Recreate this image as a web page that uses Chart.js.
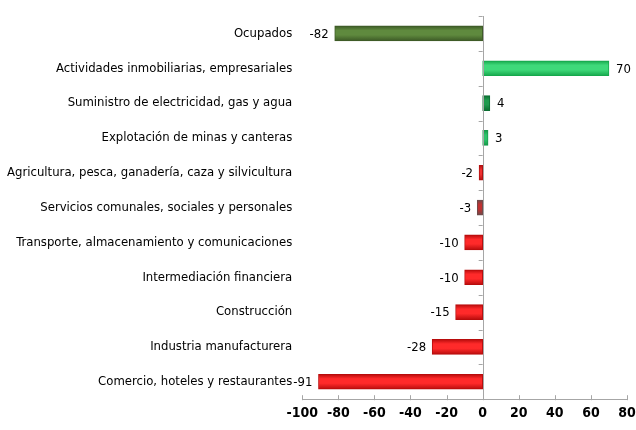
<!DOCTYPE html>
<html>
<head>
<meta charset="utf-8">
<script src="https://cdn.jsdelivr.net/npm/chart.js@4"></script>
<style>
html,body{margin:0;padding:0;background:#fff;}
#wrap{width:636px;height:430px;}
</style>
</head>
<body>
<div id="wrap"><canvas id="c" width="636" height="430"></canvas></div>
<script>
const categories = [
  "Ocupados",
  "Actividades inmobiliarias, empresariales",
  "Suministro de electricidad, gas y agua",
  "Explotación de minas y canteras",
  "Agricultura, pesca, ganadería, caza y silvicultura",
  "Servicios comunales, sociales y personales",
  "Transporte, almacenamiento y comunicaciones",
  "Intermediación financiera",
  "Construcción",
  "Industria manufacturera",
  "Comercio, hoteles y restaurantes"
];
const values = [-82, 70, 4, 3, -2, -3, -10, -10, -15, -28, -91];
const xTicks = [-100, -80, -60, -40, -20, 0, 20, 40, 60, 80];
// [edge, center] colours per bar
const barColors = [
  ["#3d5a26", "#5f8a3e"],
  ["#16a84c", "#3fd97a"],
  ["#0b6e32", "#1f9a4e"],
  ["#15994a", "#2cc46a"],
  ["#b01010", "#f03030"],
  ["#6e4a4a", "#c03030"],
  ["#b80c0c", "#ff2a2a"],
  ["#b80c0c", "#ff2a2a"],
  ["#b80c0c", "#ff2a2a"],
  ["#b80c0c", "#ff2a2a"],
  ["#b80c0c", "#ff2a2a"]
];

const FONT = '"Liberation Sans Narrow", "Arial Narrow", "DejaVu Sans Condensed", "Liberation Sans", sans-serif';
const BAR_T = 15;

function barFill(ctx) {
  const chart = ctx.chart;
  const i = ctx.dataIndex;
  const c = barColors[i] || barColors[0];
  const ys = chart.scales && chart.scales.y;
  if (!ys || !chart.chartArea) return c[1];
  const yc = ys.getPixelForValue(i);
  const g = chart.ctx.createLinearGradient(0, yc - BAR_T / 2, 0, yc + BAR_T / 2);
  g.addColorStop(0, c[0]);
  g.addColorStop(0.3, c[1]);
  g.addColorStop(0.6, c[1]);
  g.addColorStop(1, c[0]);
  return g;
}

const axisPlugin = {
  id: 'axisPlugin',
  afterDatasetsDraw(chart) {
    const ctx = chart.ctx;
    const xs = chart.scales.x, ys = chart.scales.y;
    const x0 = xs.getPixelForValue(0);
    const top = chart.chartArea.top, bottom = chart.chartArea.bottom;
    ctx.save();
    ctx.strokeStyle = '#a6a6a6';
    ctx.lineWidth = 1;
    ctx.beginPath();
    ctx.moveTo(Math.round(x0) + 0.5, top);
    ctx.lineTo(Math.round(x0) + 0.5, bottom);
    const n = categories.length;
    for (let k = 0; k <= n; k++) {
      const yy = Math.round(ys.getPixelForValue(k - 0.5)) + 0.5;
      ctx.moveTo(x0 - 4, yy);
      ctx.lineTo(x0, yy);
    }
    ctx.moveTo(xs.left, Math.round(bottom) + 0.5);
    ctx.lineTo(xs.right, Math.round(bottom) + 0.5);
    xTicks.forEach(v => {
      const xx = Math.round(xs.getPixelForValue(v)) + 0.5;
      ctx.moveTo(xx, bottom - 4);
      ctx.lineTo(xx, bottom + 1);
    });
    ctx.stroke();

    ctx.fillStyle = '#000';
    ctx.font = '13px ' + FONT;
    ctx.textBaseline = 'middle';
    const meta = chart.getDatasetMeta(0);
    meta.data.forEach((el, i) => {
      const v = values[i];
      if (v >= 0) {
        ctx.textAlign = 'left';
        ctx.fillText(String(v), el.x + 7, el.y + 1);
      } else {
        ctx.textAlign = 'right';
        ctx.fillText(String(v), el.x - 6, el.y + 1);
      }
    });
    ctx.restore();
  }
};

new Chart(document.getElementById('c'), {
  type: 'bar',
  data: {
    labels: categories,
    datasets: [{
      data: values,
      backgroundColor: barFill,
      borderColor: (ctx) => (barColors[ctx.dataIndex] || barColors[0])[0],
      borderWidth: 1,
      borderSkipped: false,
      barThickness: BAR_T
    }]
  },
  options: {
    indexAxis: 'y',
    responsive: false,
    animation: false,
    devicePixelRatio: 1,
    layout: { padding: { top: 16, right: 0, left: -3, bottom: 2 } },
    plugins: { legend: { display: false }, tooltip: { enabled: false } },
    scales: {
      x: {
        min: -100, max: 80,
        afterBuildTicks(scale) { scale.ticks = xTicks.map(v => ({ value: v })); },
        afterFit(scale) { scale.paddingRight = 9; scale.paddingLeft = 0; },
        grid: { display: false, drawTicks: false },
        border: { display: false },
        ticks: {
          color: '#000',
          padding: 6,
          maxRotation: 0,
          autoSkip: false,
          font: { family: FONT, size: 14, weight: 'bold' }
        }
      },
      y: {
        afterFit(scale) { scale.paddingTop = 0; scale.paddingBottom = 0; },
        grid: { display: false, drawTicks: false },
        border: { display: false },
        ticks: {
          color: '#000',
          padding: 10,
          autoSkip: false,
          font: { family: FONT, size: 13 }
        }
      }
    }
  },
  plugins: [axisPlugin]
});
</script>
</body>
</html>
